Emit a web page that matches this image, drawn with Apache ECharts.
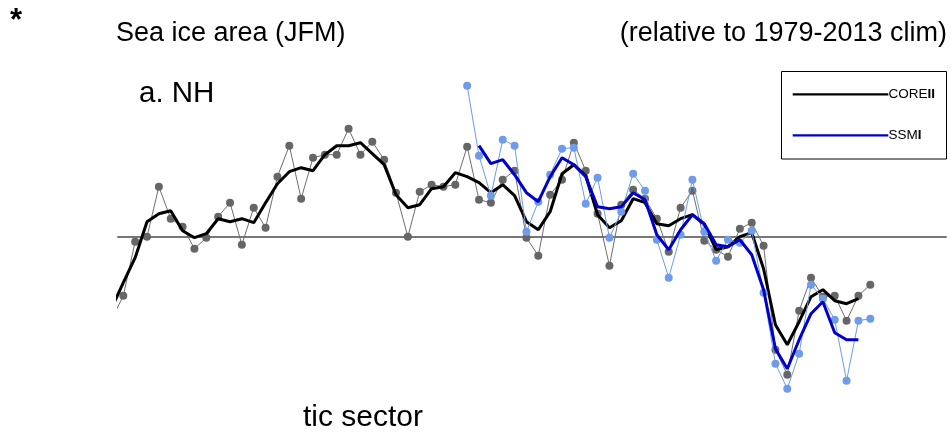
<!DOCTYPE html>
<html>
<head>
<meta charset="utf-8">
<script src="https://cdn.jsdelivr.net/npm/echarts@6/dist/echarts.min.js"></script>
<style>
html,body{margin:0;padding:0;background:#fff;}
#chart{width:951px;height:441px;}
</style>
</head>
<body>
<div id="chart"></div>
<script>
// COREII annual JFM sea ice area anomaly, 1949-2013
var coreYears = [];
for (var y = 1949; y <= 2013; y++) coreYears.push(y);
var coreAnnual = [-0.83,-0.59,-0.05,0.00,0.50,0.18,0.10,-0.12,-0.01,0.20,0.34,-0.08,0.29,0.09,0.60,0.91,0.38,0.79,0.82,0.82,1.08,0.82,0.95,0.77,0.44,0.00,0.45,0.52,0.50,0.52,0.90,0.37,0.34,0.57,0.66,-0.01,-0.19,0.42,0.57,0.94,0.66,0.23,-0.29,0.32,0.47,0.38,0.18,-0.15,0.29,0.46,-0.04,-0.13,-0.20,0.08,0.14,-0.09,-1.13,-1.38,-0.74,-0.41,-0.60,-0.59,-0.84,-0.59,-0.48];
// COREII 3-yr running mean, 1949-2012
var coreSmoothYears = [];
for (var y2 = 1949; y2 <= 2012; y2++) coreSmoothYears.push(y2);
var coreSmooth = [-0.72,-0.46,-0.21,0.15,0.23,0.26,0.06,-0.01,0.03,0.18,0.15,0.18,0.14,0.34,0.53,0.65,0.69,0.66,0.82,0.91,0.91,0.94,0.83,0.72,0.42,0.29,0.32,0.48,0.50,0.64,0.60,0.54,0.44,0.52,0.41,0.15,0.07,0.25,0.63,0.72,0.61,0.22,0.09,0.16,0.38,0.34,0.13,0.11,0.18,0.22,0.12,-0.13,-0.10,0.00,0.04,-0.32,-0.88,-1.08,-0.85,-0.60,-0.53,-0.64,-0.67,-0.62];
// SSMI annual, 1979-2013
var ssmiYears = [];
for (var y3 = 1979; y3 <= 2013; y3++) ssmiYears.push(y3);
var ssmiAnnual = [1.51,0.81,0.41,0.97,0.91,0.05,0.35,0.62,0.88,0.89,0.33,0.59,-0.01,0.25,0.63,0.46,-0.03,-0.41,0.02,0.57,0.05,-0.24,-0.03,-0.06,0.06,-0.56,-1.27,-1.52,-1.17,-0.48,-0.62,-0.83,-1.44,-0.84,-0.82];
// SSMI 3-yr running mean, 1980-2012
var ssmiSmoothYears = [];
for (var y4 = 1980; y4 <= 2012; y4++) ssmiSmoothYears.push(y4);
var ssmiSmooth = [0.91,0.73,0.77,0.62,0.44,0.35,0.60,0.79,0.72,0.60,0.30,0.28,0.30,0.44,0.37,0.02,-0.13,0.07,0.22,0.13,-0.08,-0.10,-0.03,-0.18,-0.53,-1.12,-1.32,-1.03,-0.77,-0.65,-0.96,-1.03,-1.03];

var legendLabels = ['COREII', 'SSMI'];

function pairs(xs, vs) { return xs.map(function (x, i) { return [x, vs[i]]; }); }

var FONT = '"Liberation Sans", Arial, Helvetica, sans-serif';
var chart = echarts.init(document.getElementById('chart'), null, {renderer: 'canvas'});
chart.setOption({
  animation: false,
  backgroundColor: '#ffffff',
  grid: {left: 118, right: 5, top: 36.7, bottom: 4.3, containLabel: false},
  xAxis: {
    type: 'value', min: 1949.553, max: 2019.385,
    axisLine: {show: true, onZero: true, lineStyle: {color: '#777777', width: 2}},
    axisTick: {show: false}, axisLabel: {show: false}, splitLine: {show: false}
  },
  yAxis: {
    type: 'value', min: -2, max: 2,
    axisLine: {show: false}, axisTick: {show: false}, axisLabel: {show: false}, splitLine: {show: false}
  },
  series: [
    {
      name: 'COREII annual', type: 'line', data: pairs(coreYears, coreAnnual),
      symbol: 'circle', symbolSize: 8, showAllSymbol: true, clip: true,
      lineStyle: {color: '#6e6e6e', width: 1},
      itemStyle: {color: '#666666', borderWidth: 0}, z: 2
    },
    {
      name: legendLabels[0], type: 'line', data: pairs(coreSmoothYears, coreSmooth),
      symbol: 'none', clip: true,
      lineStyle: {color: '#000000', width: 3}, z: 3
    },
    {
      name: 'SSMI annual', type: 'line', data: pairs(ssmiYears, ssmiAnnual),
      symbol: 'circle', symbolSize: 8, showAllSymbol: true, clip: true,
      lineStyle: {color: '#6f9be8', width: 1},
      itemStyle: {color: '#6f9be8', borderWidth: 0}, z: 4
    },
    {
      name: legendLabels[1], type: 'line', data: pairs(ssmiSmoothYears, ssmiSmooth),
      symbol: 'none', clip: true,
      lineStyle: {color: '#0000c8', width: 3}, z: 5
    }
  ],
  graphic: [
    {type: 'text', left: 10, top: 6, style: {text: '*', font: 'bold 31px ' + FONT, fill: '#000'}},
    {type: 'text', x: 116, y: 34, style: {text: 'Sea ice area (JFM)', font: '27px ' + FONT, fill: '#000', textVerticalAlign: 'middle', textAlign: 'left'}},
    {type: 'text', x: 947, y: 34, style: {text: '(relative to 1979-2013 clim)', font: '27px ' + FONT, fill: '#000', textVerticalAlign: 'middle', textAlign: 'right'}},
    {type: 'text', x: 139, y: 94, style: {text: 'a. NH', font: '29.5px ' + FONT, fill: '#000', textVerticalAlign: 'middle', textAlign: 'left'}},
    {type: 'text', x: 303, y: 418, style: {text: 'tic sector', font: '30px ' + FONT, fill: '#000', textVerticalAlign: 'middle', textAlign: 'left'}},
    {type: 'rect', shape: {x: 781.5, y: 71.5, width: 165, height: 87.5}, style: {fill: '#fff', stroke: '#000', lineWidth: 1}, z: 10},
    {type: 'line', shape: {x1: 792.7, y1: 94.3, x2: 888.3, y2: 94.3}, style: {stroke: '#000', lineWidth: 2.2}, z: 11},
    {type: 'line', shape: {x1: 792.7, y1: 135.3, x2: 888.3, y2: 135.3}, style: {stroke: '#0000c8', lineWidth: 2.2}, z: 11},
    {type: 'text', x: 888.5, y: 94.5, z: 11, style: {
      text: '{r|CORE}{b|II}', textVerticalAlign: 'middle', textAlign: 'left',
      rich: {r: {font: '13.5px ' + FONT, fill: '#000'}, b: {font: 'bold 13.5px ' + FONT, fill: '#000'}}
    }},
    {type: 'text', x: 888.5, y: 135.5, z: 11, style: {
      text: '{r|SSM}{b|I}', textVerticalAlign: 'middle', textAlign: 'left',
      rich: {r: {font: '13.5px ' + FONT, fill: '#000'}, b: {font: 'bold 13.5px ' + FONT, fill: '#000'}}
    }}
  ]
});
</script>
</body>
</html>
